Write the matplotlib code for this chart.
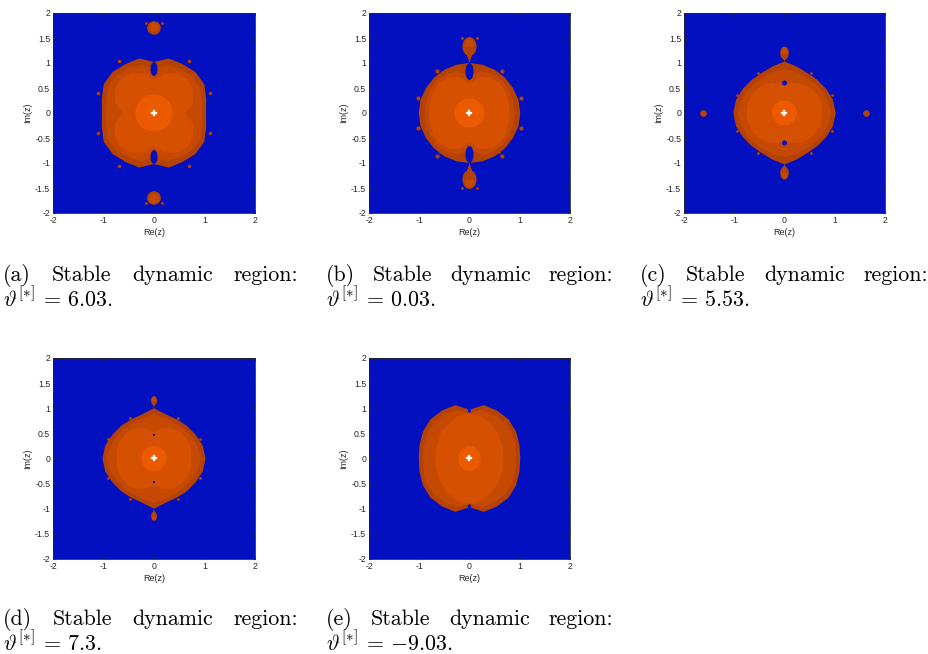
import numpy as np
import matplotlib
matplotlib.use("Agg")
import matplotlib.pyplot as plt
from matplotlib.patches import Polygon, Ellipse

plt.rcParams['mathtext.fontset'] = 'cm'

# ---------------- data ----------------
ANG = [0, 15, 30, 45, 60, 75, 90]          # quadrant sample angles (deg)

PANEL_LABELS = ["(a)", "(b)", "(c)", "(d)", "(e)"]
THETA_VALUES = ["6.03", "0.03", "5.53", "7.3", "{-}9.03"]

# radii of the nested level sets (outer rim, band, light region)
A_R1 = [1.03, 1.07, 1.15, 1.16, 1.13, 1.13, 1.02]
A_R2 = [0.95, 0.98, 1.05, 1.05, 1.02, 1.00, 0.90]
A_R3 = [0.62, 0.80, 0.90, 0.95, 0.92, 0.82, 0.67]
B_R1 = [1.01, 1.01, 1.00, 1.00, 1.00, 1.00, 1.00]
B_R2 = [0.90, 0.90, 0.91, 0.92, 0.90, 0.87, 0.72]
B_R3 = [0.80, 0.81, 0.84, 0.85, 0.82, 0.75, 0.58]
C_R1 = [1.02, 1.00, 0.96, 0.93, 0.92, 0.96, 1.03]
C_R2 = [0.93, 0.90, 0.87, 0.84, 0.83, 0.85, 0.88]
C_R3 = [0.76, 0.76, 0.74, 0.72, 0.68, 0.62, 0.58]
D_R1 = [1.02, 1.00, 0.95, 0.92, 0.90, 0.91, 1.00]
D_R2 = [0.93, 0.90, 0.86, 0.83, 0.82, 0.83, 0.88]
D_R3 = [0.74, 0.76, 0.76, 0.74, 0.70, 0.62, 0.52]
E_R1 = [1.01, 1.03, 1.07, 1.10, 1.10, 1.10, 0.97]
E_R2 = [0.92, 0.95, 0.98, 1.00, 1.00, 1.00, 0.90]
E_R3 = [0.68, 0.69, 0.72, 0.77, 0.82, 0.88, 0.90]

# core (lightest) region half-widths (x, y)
CORE_RX = [0.37, 0.30, 0.25, 0.25, 0.22]
CORE_RY = [0.37, 0.29, 0.25, 0.25, 0.25]

# satellites on the imaginary axis: centre y, half width, half height, pinch y
SAT_Y = [1.70, 1.33, 1.20, 1.15, None]
SAT_W = [0.135, 0.14, 0.085, 0.06, None]
SAT_H = [0.135, 0.19, 0.13, 0.09, None]
SAT_PINCH = [None, 1.00, 1.02, 1.01, None]

# blue holes on the imaginary axis: centre y, half width, half height
HOLE_Y = [0.88, 0.83, 0.60, 0.47, 0.95]
HOLE_W = [0.07, 0.08, 0.05, 0.022, 0.03]
HOLE_H = [0.14, 0.17, 0.05, 0.022, 0.04]

# small orange points (mirrored into all quadrants)
DOTS_X = [[0.70, 1.10, 0.16], [0.65, 1.03, 0.15, 0.58], [0.52, 0.95, 1.62], [0.47, 0.92], []]
DOTS_Y = [[1.05, 0.40, 1.80], [0.85, 0.30, 1.50, 0.77], [0.80, 0.36, 0.00], [0.80, 0.38], []]
DOTS_S = [[2.5, 2.5, 2.0], [3.0, 3.0, 2.0, 2.0], [2.0, 2.0, 4.5], [2.0, 2.0], []]

X_TICKS = [-2, -1, 0, 1, 2]
X_TICKLABELS = ["-2", "-1", "0", "1", "2"]
Y_TICKS = [-2, -1.5, -1, -0.5, 0, 0.5, 1, 1.5, 2]
Y_TICKLABELS = ["-2", "-1.5", "-1", "-0.5", "0", "0.5", "1", "1.5", "2"]

RADII = [(A_R1, A_R2, A_R3), (B_R1, B_R2, B_R3), (C_R1, C_R2, C_R3),
         (D_R1, D_R2, D_R3), (E_R1, E_R2, E_R3)]

# ---------------- style ----------------
BLUE = '#0310BF'
L1 = '#B44205'
L2 = '#C64902'
L3 = '#D55000'
L4 = '#EC5A00'
AXC = '#262626'

W, H = 929, 654
# axes boxes in pixels: left, top, width, height
BOXES = [(53, 13, 202, 200), (369, 13, 201, 200), (684, 13, 201, 200),
         (53, 358, 202, 201), (369, 358, 201, 201)]
CAP_LR = [(3, 298), (326, 613), (640, 928), (3, 298), (326, 613)]
CAP_BASE = [(281, 306), (281, 306), (281, 306), (625, 650), (625, 650)]


def full_outline(radii):
    ang = np.array(ANG, dtype=float)
    r = np.array(radii, dtype=float)
    # mirror quadrant into full circle
    a_all = np.concatenate([ang, 180 - ang[::-1][1:], 180 + ang[1:], 360 - ang[::-1][1:-1]])
    r_all = np.concatenate([r, r[::-1][1:], r[1:], r[::-1][1:-1]])
    t = np.deg2rad(a_all)
    return np.column_stack([r_all * np.cos(t), r_all * np.sin(t)])


fig = plt.figure(figsize=(W / 100, H / 100), dpi=100)

for i in range(5):
    l, t, w, h = BOXES[i]
    ax = fig.add_axes([l / W, 1 - (t + h) / H, w / W, h / H])
    ax.set_facecolor(BLUE)
    ax.set_xlim(-2, 2)
    ax.set_ylim(-2, 2)

    r1, r2, r3 = RADII[i]
    for rr, col in ((r1, L1), (r2, L2), (r3, L3)):
        ax.add_patch(Polygon(full_outline(rr), closed=True, fc=col, ec='none', zorder=2))
    ax.add_patch(Ellipse((0, 0), 2 * CORE_RX[i], 2 * CORE_RY[i], fc=L4, ec='none', zorder=3))

    # satellites
    if SAT_Y[i] is not None:
        for s in (1, -1):
            yc = s * SAT_Y[i]
            ax.add_patch(Ellipse((0, yc), 2 * SAT_W[i], 2 * SAT_H[i], fc=L1, ec='none', zorder=2))
            ax.add_patch(Ellipse((0, yc + s * 0.02), 1.4 * SAT_W[i], 1.4 * SAT_H[i], fc=L2, ec='none', zorder=2))
            if SAT_PINCH[i] is not None:
                tri = [(-0.75 * SAT_W[i], yc), (0.75 * SAT_W[i], yc), (0, s * SAT_PINCH[i])]
                ax.add_patch(Polygon(tri, closed=True, fc=L1, ec='none', zorder=2))

    # blue holes
    for s in (1, -1):
        ax.add_patch(Ellipse((0, s * HOLE_Y[i]), 2 * HOLE_W[i], 2 * HOLE_H[i], fc=BLUE, ec='none', zorder=4))

    # small points
    for x, y, sz in zip(DOTS_X[i], DOTS_Y[i], DOTS_S[i]):
        for sx in (1, -1):
            for sy in (1, -1):
                ax.plot(sx * x, sy * y, 'o', ms=sz, color=L1, mec='none', zorder=5)

    ax.plot(0, 0, marker='P', ms=4.2, color='white', mec='white', mew=0.2, zorder=6)

    ax.set_xticks(X_TICKS)
    ax.set_xticklabels(X_TICKLABELS)
    ax.set_yticks(Y_TICKS)
    ax.set_yticklabels(Y_TICKLABELS)
    ax.tick_params(direction='in', top=True, right=True, length=2.5, width=0.5,
                   labelsize=6.3, labelcolor=AXC, color=AXC, pad=2)
    for lab in ax.get_xticklabels() + ax.get_yticklabels():
        lab.set_family('Liberation Sans')
    for sp in ax.spines.values():
        sp.set_linewidth(0.6)
        sp.set_color(AXC)
    ax.set_xlabel('Re(z)', fontsize=6.5, color=AXC, family='Liberation Sans', labelpad=2)
    ax.set_ylabel('Im(z)', fontsize=6.5, color=AXC, family='Liberation Sans', labelpad=2)

# ---------------- captions (justified first line) ----------------
renderer = fig.canvas.get_renderer()
FS = 15.8
for i in range(5):
    left, right = CAP_LR[i]
    b1, b2 = CAP_BASE[i]
    words = [PANEL_LABELS[i], "Stable", "dynamic", "region:"]
    txts = [fig.text(0, 1 - b1 / H, wd, fontsize=FS, family='cmr10', va='baseline', ha='left')
            for wd in words]
    widths = [tx.get_window_extent(renderer).width for tx in txts]
    gap = (right - left - sum(widths)) / (len(words) - 1)
    x = left
    for tx, wd in zip(txts, widths):
        tx.set_x(x / W)
        x += wd + gap
    fig.text(left / W, 1 - b2 / H, r'$\vartheta^{[*]}\,=\,%s.$' % THETA_VALUES[i],
             fontsize=FS, va='baseline', ha='left')

fig.savefig('out.png', dpi=100)
